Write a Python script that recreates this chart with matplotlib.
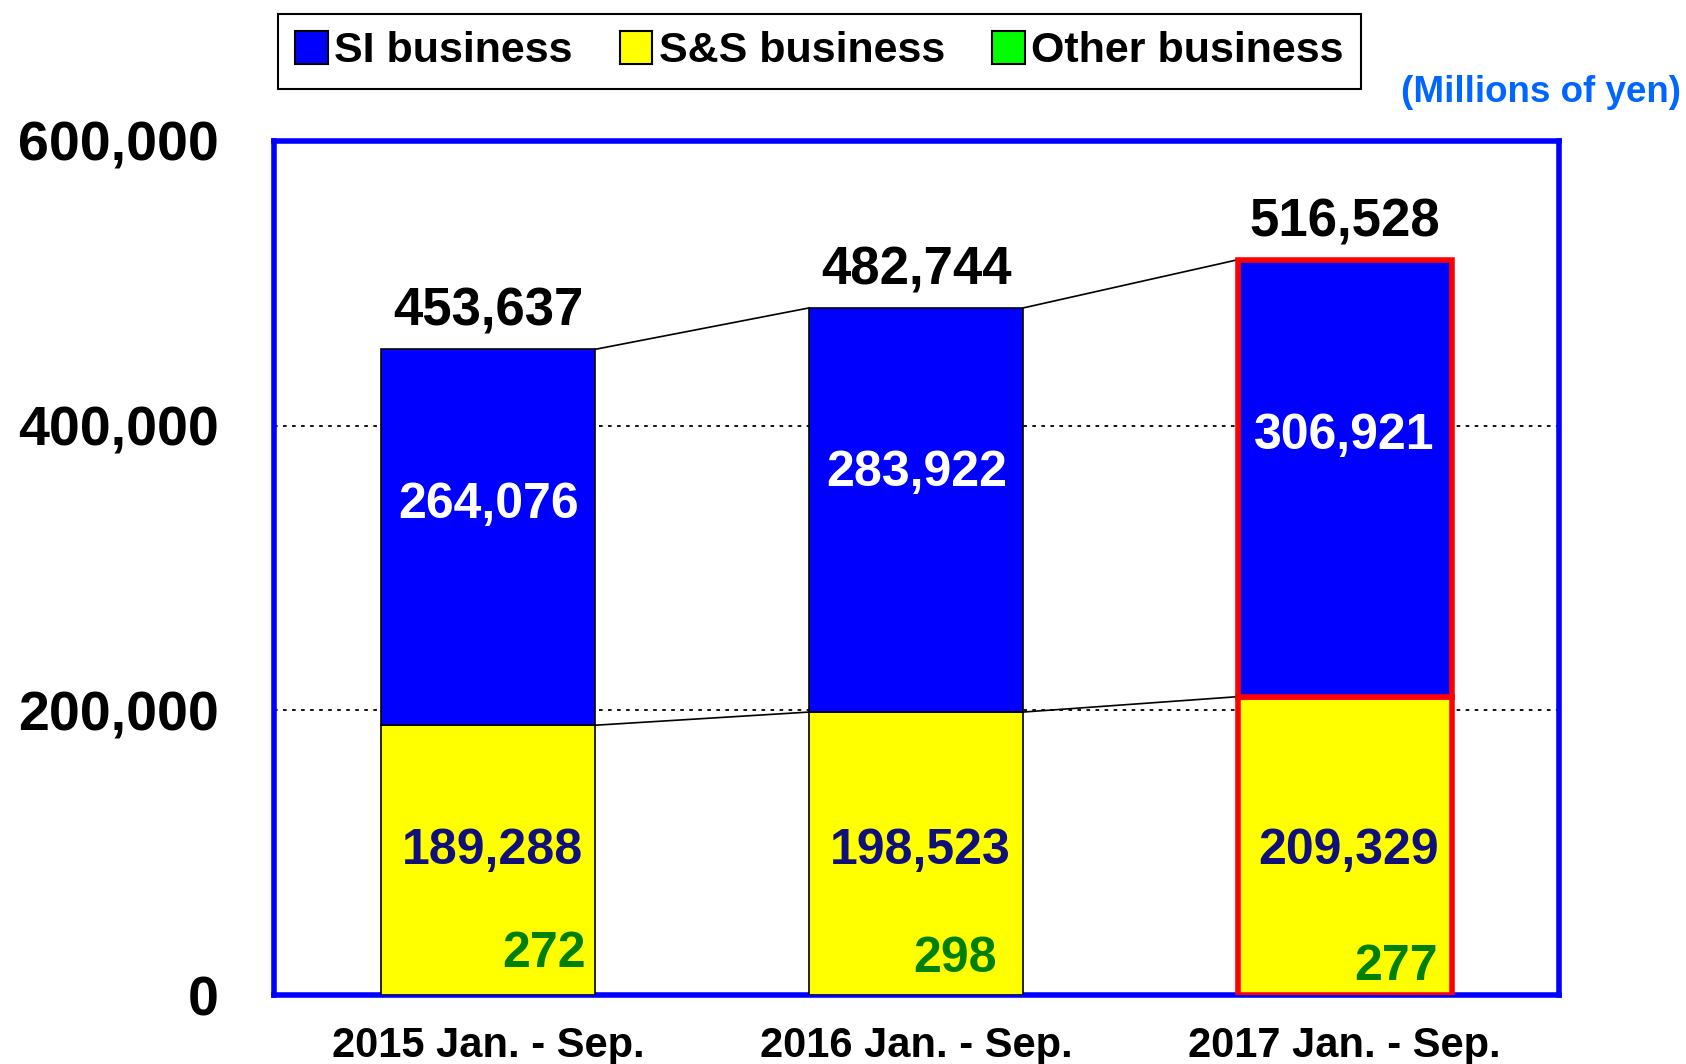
import matplotlib.pyplot as plt
from matplotlib.patches import Patch

plt.rcParams['font.family'] = ['Liberation Sans', 'DejaVu Sans']
plt.rcParams['font.weight'] = 'bold'

periods = ['2015 Jan. - Sep.', '2016 Jan. - Sep.', '2017 Jan. - Sep.']
si = [264076, 283922, 306921]
ss = [189288, 198523, 209329]
other = [272, 298, 277]
totals = [453637, 482744, 516528]
yticks = [0, 200000, 400000, 600000]

x = list(range(len(periods)))
w = 0.5

# label placement tweaks (layout only)
other_dx = [0.13, 0.09, 0.12]
other_y = [28500, 25500, 19500]
si_dy = [23000, 26000, 30000]

fig = plt.figure(figsize=(16.86, 10.64), dpi=100)
ax = fig.add_axes([0.1625, 0.0648, 0.762, 0.8027])

edges = ['black', 'black', 'red']
lws = [1.2, 1.2, 4]
ss_top = [o + s for o, s in zip(other, ss)]
for i in x:
    ax.bar(i, other[i], w, color='#00ff00', edgecolor=edges[i], linewidth=lws[i], zorder=3)
    ax.bar(i, ss[i], w, bottom=other[i], color='#ffff00', edgecolor=edges[i], linewidth=lws[i], zorder=3)
    ax.bar(i, si[i], w, bottom=ss_top[i], color='#0000ff', edgecolor=edges[i], linewidth=lws[i], zorder=3)

# connector lines between bars
for i in range(len(x) - 1):
    ax.plot([i + w / 2, i + 1 - w / 2], [totals[i], totals[i + 1]], color='black', lw=1.2, zorder=2)
    ax.plot([i + w / 2, i + 1 - w / 2], [ss_top[i], ss_top[i + 1]], color='black', lw=1.2, zorder=2)

for v in yticks[1:-1]:
    ax.axhline(v, color='black', ls=(0, (2, 3)), lw=1.3, zorder=1)

for i in x:
    ax.text(i, totals[i] + 26500, f'{totals[i]:,}', ha='center', va='center', fontsize=38, color='black')
    ax.text(i, (ss_top[i] + totals[i]) / 2 + si_dy[i], f'{si[i]:,}', ha='center', va='center', fontsize=36, color='white')
    ax.text(i + 0.01, 101000, f'{ss[i]:,}', ha='center', va='center', fontsize=36, color='#10107a')
    ax.text(i + other_dx[i], other_y[i], f'{other[i]:,}', ha='center', va='center', fontsize=36, color='#008000')

ax.set_xlim(-0.5, 2.5)
ax.set_ylim(0, 600000)
ax.set_xticks(x)
ax.set_xticklabels(periods, fontsize=30)
ax.set_yticks(yticks)
ax.set_yticklabels([f'{v:,}' for v in yticks], fontsize=40)
ax.tick_params(axis='y', length=0, pad=40)
ax.tick_params(axis='x', length=0, pad=22)
for s in ax.spines.values():
    s.set_color('#0000ff')
    s.set_linewidth(4)
    s.set_zorder(2.5)

handles = [Patch(facecolor='#0000ff', edgecolor='black', lw=1.5),
           Patch(facecolor='#ffff00', edgecolor='black', lw=1.5),
           Patch(facecolor='#00ff00', edgecolor='black', lw=1.5)]
leg = fig.legend(handles, ['SI business', 'S&S business', 'Other business'],
                 loc='center', bbox_to_anchor=(0.486, 0.952), ncol=3, fontsize=31,
                 frameon=True, fancybox=False, edgecolor='black', framealpha=1,
                 handlelength=0.75, handleheight=0.8, handletextpad=0.15,
                 columnspacing=1.1, borderpad=0.4)
leg.get_frame().set_linewidth(1.5)

fig.text(1681 / 1686, 1 - 92 / 1064, '(Millions of yen)', ha='right', va='center',
         fontsize=26.5, color='#0066ff')

fig.savefig('out.png', dpi=100)
